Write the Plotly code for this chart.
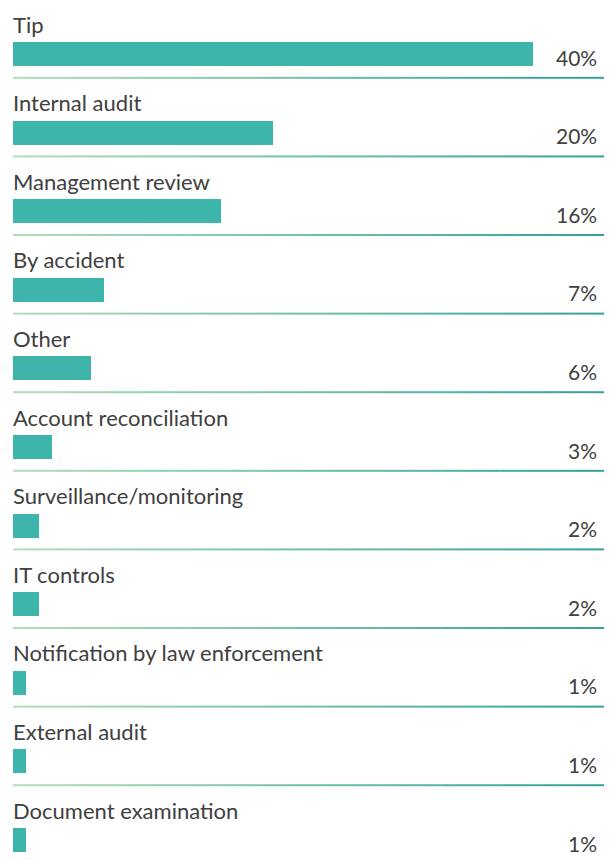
import plotly.graph_objects as go

categories = ["Tip", "Internal audit", "Management review", "By accident", "Other",
              "Account reconciliation", "Surveillance/monitoring", "IT controls",
              "Notification by law enforcement", "External audit", "Document examination"]
values = [40, 20, 16, 7, 6, 3, 2, 2, 1, 1, 1]
value_labels = [f"{v}%" for v in values]

BAR_COLOR = "#3db5aa"
TEXT_COLOR = "#404040"
FONT = "Lato, Roboto, sans-serif"

ys = list(range(len(categories)))

fig = go.Figure()
fig.add_trace(go.Bar(
    x=values, y=ys, orientation="h", base=0,
    marker=dict(color=BAR_COLOR, line=dict(width=0)),
    width=0.305, hoverinfo="skip", showlegend=False,
))

annotations = []
for i, (cat, lab) in enumerate(zip(categories, value_labels)):
    annotations.append(dict(
        x=0, y=i, xref="x", yref="y", text=cat, showarrow=False,
        xanchor="left", yanchor="middle", yshift=30, xshift=-2,
        font=dict(family=FONT, size=22, color=TEXT_COLOR),
    ))
    annotations.append(dict(
        x=45.08, y=i, xref="x", yref="y", text=lab, showarrow=False,
        xanchor="right", yanchor="middle", yshift=-3,
        font=dict(family=FONT, size=21, color=TEXT_COLOR),
    ))

# gradient separator lines (light green -> teal)
c0 = (176, 222, 186)
c1 = (52, 163, 152)
NSEG = 40
x_start, x_end = 0, 45.45
shapes = []
for i in range(len(categories)):
    yline = i + 0.303
    for s in range(NSEG):
        t = s / (NSEG - 1)
        col = "rgb(%d,%d,%d)" % tuple(round(a + (b - a) * t) for a, b in zip(c0, c1))
        xa = x_start + (x_end - x_start) * s / NSEG
        xb = x_start + (x_end - x_start) * (s + 1) / NSEG
        shapes.append(dict(type="line", xref="x", yref="y", x0=xa, x1=xb + 0.02,
                           y0=yline, y1=yline, line=dict(color=col, width=2), layer="below"))

fig.update_layout(
    width=613, height=860,
    margin=dict(l=5, r=0, t=0, b=0),
    paper_bgcolor="white", plot_bgcolor="white",
    xaxis=dict(range=[0, 608 / 13], visible=False, fixedrange=True),
    yaxis=dict(range=[(860 - 46) / 78.6, -46 / 78.6], visible=False, fixedrange=True),
    annotations=annotations, shapes=shapes, bargap=0,
)

fig.write_html("out.html")
